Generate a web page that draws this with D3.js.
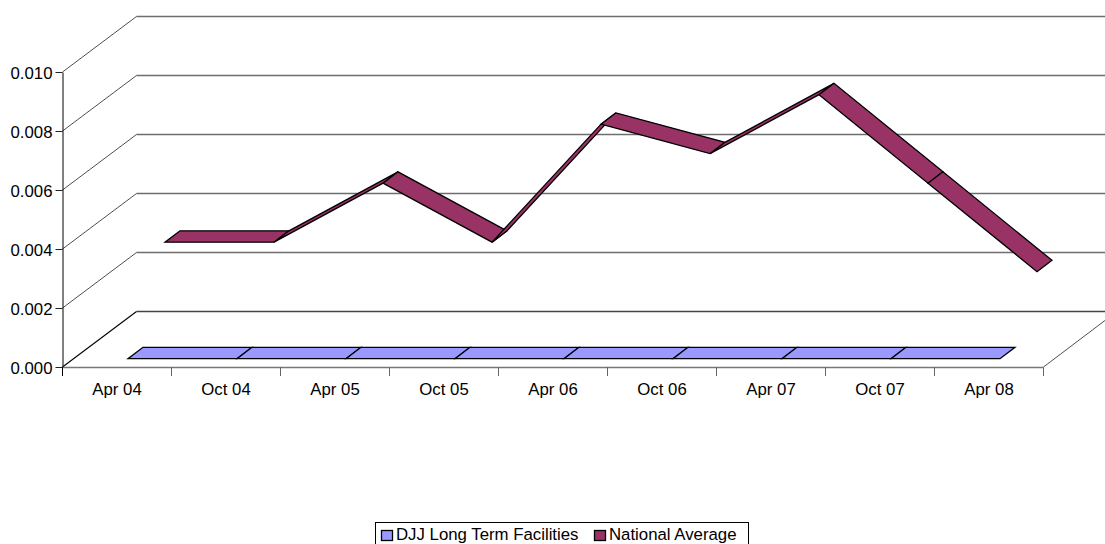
<!DOCTYPE html>
<html><head><meta charset="utf-8">
<script src="https://cdn.jsdelivr.net/npm/d3@7/dist/d3.min.js"></script>
<style>html,body{margin:0;padding:0;background:#fff}svg{display:block}text{font-family:"Liberation Sans",Arial,sans-serif;fill:#000}</style>
</head><body><svg id="c" width="1105" height="544"></svg>
<script>
const categories = ["Apr 04","Oct 04","Apr 05","Oct 05","Apr 06","Oct 06","Apr 07","Oct 07","Apr 08"];
const djjValues = [0,0,0,0,0,0,0,0,0];
const nationalValues = [0.003,0.003,0.005,0.003,0.007,0.006,0.008,0.005,0.002];
const yTickValues = [0,0.002,0.004,0.006,0.008,0.010];
const seriesNames = ["DJJ Long Term Facilities","National Average"];
const seriesColors = ["#9999ff","#993366"];

const svg = d3.select("#c");
const x = d3.scaleBand().domain(categories).range([62.5,1043.5]).padding(0);
const y = d3.scaleLinear().domain([0,0.010]).range([367,72]);
const depth = d3.scaleLinear().domain([0,1]).range([0,74]);
const depthY = d3.scaleLinear().domain([0,1]).range([0,-56]);

// oblique projection of (category, value, depth)
const px = (c,z)=> x(c)+x.bandwidth()/2+depth(z);
const py = (v,z)=> y(v)+depthY(z);

// gridlines & side wall
const grid = svg.append("g");
yTickValues.forEach(t=>{
  const dark = t===0;
  grid.append("line").attr("x1",x.range()[0]+depth(1)).attr("x2",1105)
    .attr("y1",py(t,1)+.5).attr("y2",py(t,1)+.5)
    .attr("stroke",dark?"#444":"#6e6e6e").attr("stroke-width",1.4);
  grid.append("line").attr("x1",x.range()[0]).attr("y1",y(t))
    .attr("x2",x.range()[0]+depth(1)).attr("y2",py(t,1)+.5)
    .attr("stroke",dark?"#000":"#222").attr("stroke-width",dark?1.1:.8);
});
// floor right edge (clipped by page)
grid.append("line").attr("x1",x.range()[1]).attr("y1",y(0))
  .attr("x2",x.range()[1]+depth(1)).attr("y2",py(0,1))
  .attr("stroke","#222").attr("stroke-width",.8);

// ribbons
function ribbon(values,color,z0,z1){
  const g = svg.append("g");
  const line = d3.line();
  d3.pairs(categories.map((c,i)=>[c,values[i]])).forEach(([a,b])=>{
    const pts=[[px(a[0],z0),py(a[1],z0)],[px(b[0],z0),py(b[1],z0)],
               [px(b[0],z1),py(b[1],z1)],[px(a[0],z1),py(a[1],z1)]];
    g.append("path").attr("d",line(pts)+"Z").attr("fill",color)
      .attr("stroke","#000").attr("stroke-width",1.3).attr("stroke-linejoin","miter");
  });
}
ribbon(djjValues,seriesColors[0],0.149,0.351);
ribbon(nationalValues,seriesColors[1],0.649,0.851);

// axes
const yAxis = svg.append("g").attr("transform","translate(62.5,0)")
  .call(d3.axisLeft(y).tickValues(yTickValues).tickFormat(d3.format(".3f")).tickSize(7).tickSizeOuter(0).tickPadding(3));
yAxis.select(".domain").attr("stroke","#000");
yAxis.selectAll(".tick line").attr("stroke","#222");
yAxis.selectAll("text").style("font-size","16.8px").attr("dy","0.36em");

const xAxis = svg.append("g").attr("transform","translate(0,368.5)")
  .call(d3.axisBottom(x).tickFormat(d=>d).tickSize(0).tickPadding(15));
xAxis.select(".domain").remove();
xAxis.selectAll("text").style("font-size","16.8px");
svg.append("line").attr("x1",x.range()[0]).attr("x2",x.range()[1]).attr("y1",367.5).attr("y2",367.5).attr("stroke","#777").attr("stroke-width",1.3);
svg.append("line").attr("x1",62.5).attr("x2",62.5).attr("y1",367).attr("y2",376).attr("stroke","#000");
categories.forEach(c=>{
  const tx=Math.floor(x(c)+x.bandwidth())+.5;
  svg.append("line").attr("x1",tx).attr("x2",tx).attr("y1",367).attr("y2",376).attr("stroke","#666");
});

// legend
const lg = svg.append("g");
lg.append("rect").attr("x",375.5).attr("y",522.5).attr("width",373).attr("height",26).attr("fill","#fff").attr("stroke","#000");
const lx=[381,594];
seriesNames.forEach((n,i)=>{
  lg.append("rect").attr("x",lx[i]+.5).attr("y",530.5).attr("width",11).attr("height",10).attr("fill",seriesColors[i]).attr("stroke","#000").attr("stroke-width",1.3);
  lg.append("text").attr("x",lx[i]+15).attr("y",540).style("font-size","16.8px").text(n);
});
</script></body></html>
